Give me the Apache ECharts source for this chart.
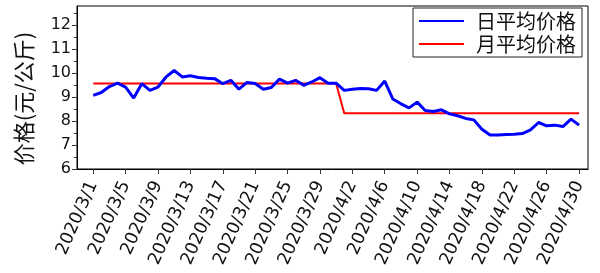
<!DOCTYPE html>
<html><head><meta charset="utf-8">
<script src="https://cdn.jsdelivr.net/npm/echarts@6/dist/echarts.min.js"></script>
<style>html,body{margin:0;padding:0;background:#fff}#c{width:600px;height:273px}</style>
</head><body><div id="c"></div>
<script>
const dates = ['2020/3/1','2020/3/2','2020/3/3','2020/3/4','2020/3/5','2020/3/6','2020/3/7','2020/3/8','2020/3/9','2020/3/10',
'2020/3/11','2020/3/12','2020/3/13','2020/3/14','2020/3/15','2020/3/16','2020/3/17','2020/3/18','2020/3/19','2020/3/20',
'2020/3/21','2020/3/22','2020/3/23','2020/3/24','2020/3/25','2020/3/26','2020/3/27','2020/3/28','2020/3/29','2020/3/30','2020/3/31',
'2020/4/1','2020/4/2','2020/4/3','2020/4/4','2020/4/5','2020/4/6','2020/4/7','2020/4/8','2020/4/9','2020/4/10',
'2020/4/11','2020/4/12','2020/4/13','2020/4/14','2020/4/15','2020/4/16','2020/4/17','2020/4/18','2020/4/19','2020/4/20',
'2020/4/21','2020/4/22','2020/4/23','2020/4/24','2020/4/25','2020/4/26','2020/4/27','2020/4/28','2020/4/29','2020/4/30'];
const dailyAvg = [9.07,9.19,9.44,9.58,9.42,8.96,9.56,9.28,9.42,9.84,
10.11,9.84,9.89,9.82,9.79,9.77,9.56,9.70,9.33,9.61,
9.57,9.33,9.40,9.75,9.58,9.70,9.49,9.63,9.81,9.58,9.58,
9.28,9.33,9.36,9.35,9.28,9.67,8.92,8.72,8.55,8.79,
8.44,8.40,8.47,8.30,8.22,8.11,8.05,7.66,7.42,7.42,
7.44,7.45,7.48,7.63,7.94,7.80,7.83,7.77,8.08,7.83];
const monthNames = ['2020/3','2020/4'];
const monthAvg = [9.57, 8.33];
const yTicks = [6,7,8,9,10,11,12];
const yMinorTicks = [6.5,7.5,8.5,9.5,10.5,11.5,12.5];
const xTickIdx = [0,4,8,12,16,20,24,28,32,36,40,44,48,52,56,60];
const seriesNames = ['日平均价格','月平均价格'];
const yName = '价格(元/公斤)';

const dailyData = dailyAvg.map((v,i)=>[i,v]);
const monthlyData = dates.map((d,i)=>{
  const m = monthNames.findIndex(n => d.startsWith(n + '/'));
  return [i, monthAvg[m]];
});

const chart = echarts.init(document.getElementById('c'), null, {renderer:'canvas'});
const tickFont = 'DejaVu Sans';
chart.setOption({
  animation:false,
  grid:{left:77, top:6, right:12, bottom:104, show:true, borderColor:'#000', borderWidth:1, backgroundColor:'transparent'},
  legend:{
    orient:'vertical', right:18, top:8,
    data:seriesNames,
    borderColor:'#222', borderWidth:1, padding:[3,6,3,5], itemGap:3,
    itemWidth:45, itemHeight:14,
    itemStyle:{opacity:0},
    textStyle:{fontSize:20, fontFamily:'Noto Sans CJK SC', color:'#111', padding:[0,0,0,7]}
  },
  xAxis:{
    type:'value', min:-2, max:61.1,
    splitLine:{show:false},
    axisLine:{onZero:false, lineStyle:{color:'#000', width:1}},
    axisTick:{customValues:xTickIdx, length:5, lineStyle:{color:'#333'}},
    axisLabel:{customValues:xTickIdx, rotate:66, margin:13, fontSize:17.5, fontFamily:tickFont, color:'#111',
      formatter:(v)=>dates[Math.round(v)]}
  },
  yAxis:[{
    type:'value', min:6, max:12.8,
    name:yName, nameLocation:'middle', nameGap:42, nameRotate:90,
    nameTextStyle:{fontSize:22, fontFamily:'Noto Sans CJK SC', color:'#111', padding:[0,22,0,0]},
    splitLine:{show:false},
    axisLine:{show:true, onZero:false, lineStyle:{color:'#000'}},
    axisTick:{customValues:yTicks, length:5, lineStyle:{color:'#333'}},
    axisLabel:{customValues:yTicks, fontSize:16, fontFamily:tickFont, color:'#111', margin:6}
  },{
    type:'value', min:6, max:12.8, position:'left',
    splitLine:{show:false},
    axisLine:{show:false, onZero:false},
    axisTick:{customValues:yMinorTicks, length:3, lineStyle:{color:'#333'}},
    axisLabel:{show:false}
  }],
  series:[
    {name:seriesNames[0], type:'line', data:dailyData, symbol:'none', lineStyle:{color:'#0000ff', width:3}, itemStyle:{color:'#0000ff'}, z:3},
    {name:seriesNames[1], type:'line', data:monthlyData, symbol:'none', lineStyle:{color:'#ff0000', width:2}, itemStyle:{color:'#ff0000'}, z:2}
  ]
});
</script></body></html>
